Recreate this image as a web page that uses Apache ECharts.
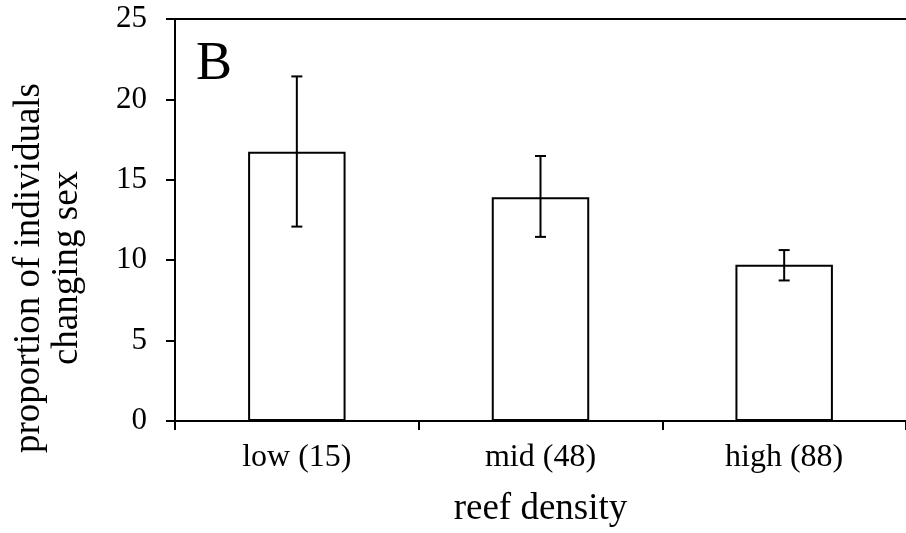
<!DOCTYPE html>
<html>
<head>
<meta charset="utf-8">
<script src="https://cdn.jsdelivr.net/npm/echarts@6/dist/echarts.min.js"></script>
<style>
html, body { margin: 0; padding: 0; background: #fff; }
#main { width: 906px; height: 533px; }
</style>
</head>
<body>
<div id="main"></div>
<script>
// 数据
var categories = ['low (15)', 'mid (48)', 'high (88)'];
var values = [16.75, 13.92, 9.72];
var errLow = [12.09, 11.45, 8.74];
var errHigh = [21.43, 16.48, 10.63];
var yTicks = [0, 5, 10, 15, 20, 25];

var font = '"Liberation Serif", "Times New Roman", serif';
var myChart = echarts.init(document.getElementById('main'));

var errData = categories.map(function (c, i) {
    return [i, errLow[i], errHigh[i]];
});

var option = {
    animation: false,
    backgroundColor: '#fff',
    grid: { left: 175, right: 0, top: 19, bottom: 110 },
    title: {
        text: 'B',
        left: 191,
        top: 33,
        textStyle: { fontFamily: font, fontSize: 54, fontWeight: 'normal', color: '#000' }
    },
    graphic: [{
        type: 'text',
        x: 48,
        y: 268,
        rotation: Math.PI / 2,
        style: {
            text: 'proportion of individuals\nchanging sex',
            fontFamily: font,
            fontSize: 37,
            lineHeight: 38,
            fill: '#000',
            textAlign: 'center',
            textVerticalAlign: 'middle'
        }
    }],
    xAxis: [{
        type: 'category',
        data: categories,
        name: 'reef density',
        nameLocation: 'middle',
        nameGap: 70,
        nameTextStyle: { fontFamily: font, fontSize: 37, color: '#000' },
        axisLine: { lineStyle: { color: '#000', width: 2 } },
        axisTick: { show: true, length: 9, lineStyle: { color: '#000', width: 2 } },
        axisLabel: { fontFamily: font, fontSize: 32, color: '#000', margin: 21 }
    }, {
        type: 'category',
        position: 'top',
        data: categories,
        axisLine: { lineStyle: { color: '#000', width: 2 } },
        axisTick: { show: false },
        axisLabel: { show: false }
    }],
    yAxis: {
        type: 'value',
        min: yTicks[0],
        max: yTicks[yTicks.length - 1],
        interval: 5,
        axisLine: { show: true, lineStyle: { color: '#000', width: 2 } },
        axisTick: { show: true, length: 9, lineStyle: { color: '#000', width: 2 } },
        axisLabel: { fontFamily: font, fontSize: 31, color: '#000', margin: 28 },
        splitLine: { show: false }
    },
    series: [{
        type: 'bar',
        data: values,
        barWidth: '40%',
        itemStyle: { color: '#fff', borderColor: '#000', borderWidth: 2 }
    }, {
        type: 'custom',
        data: errData,
        z: 10,
        renderItem: function (params, api) {
            var x = api.value(0);
            var lo = api.coord([x, api.value(1)]);
            var hi = api.coord([x, api.value(2)]);
            var w = 5.5;
            var st = { stroke: '#000', lineWidth: 2 };
            return {
                type: 'group',
                children: [
                    { type: 'line', shape: { x1: hi[0], y1: hi[1], x2: lo[0], y2: lo[1] }, style: st },
                    { type: 'line', shape: { x1: hi[0] - w, y1: hi[1], x2: hi[0] + w, y2: hi[1] }, style: st },
                    { type: 'line', shape: { x1: lo[0] - w, y1: lo[1], x2: lo[0] + w, y2: lo[1] }, style: st }
                ]
            };
        }
    }]
};

myChart.setOption(option);
</script>
</body>
</html>
